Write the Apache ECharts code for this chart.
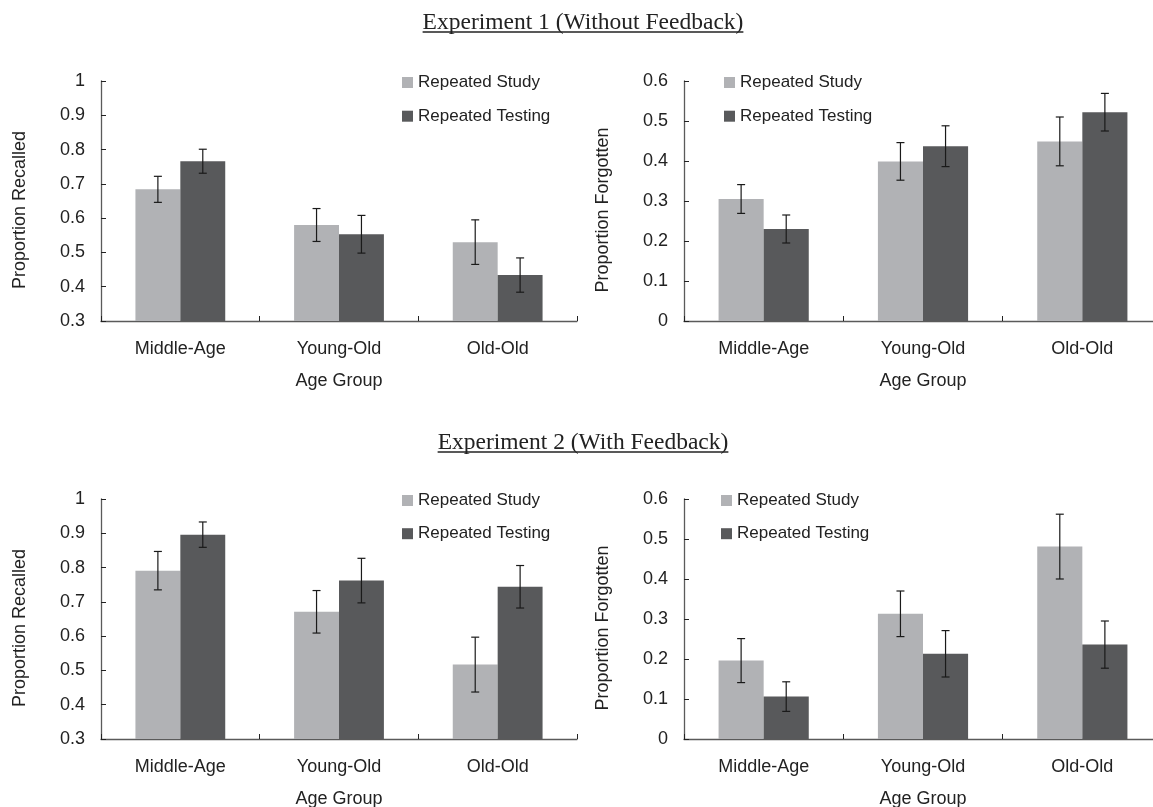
<!DOCTYPE html>
<html>
<head>
<meta charset="utf-8">
<script src="https://cdn.jsdelivr.net/npm/echarts@6/dist/echarts.min.js"></script>
<style>
html,body{margin:0;padding:0;background:#fff;}
#chart{width:1153px;height:807px;}
</style>
</head>
<body>
<div id="chart"></div>
<script>
// ---- data ----
const categories = ['Middle-Age', 'Young-Old', 'Old-Old'];
const seriesNames = ['Repeated Study', 'Repeated Testing'];
const titles = ['Experiment 1 (Without Feedback)', 'Experiment 2 (With Feedback)'];

// Experiment 1
const exp1RecalledStudy = [0.684, 0.580, 0.530];
const exp1RecalledStudyErr = [0.038, 0.048, 0.065];
const exp1RecalledTesting = [0.766, 0.553, 0.434];
const exp1RecalledTestingErr = [0.035, 0.055, 0.050];
const exp1ForgottenStudy = [0.305, 0.399, 0.449];
const exp1ForgottenStudyErr = [0.036, 0.047, 0.061];
const exp1ForgottenTesting = [0.230, 0.437, 0.522];
const exp1ForgottenTestingErr = [0.035, 0.051, 0.047];

// Experiment 2
const exp2RecalledStudy = [0.791, 0.671, 0.517];
const exp2RecalledStudyErr = [0.056, 0.062, 0.080];
const exp2RecalledTesting = [0.896, 0.762, 0.744];
const exp2RecalledTestingErr = [0.037, 0.065, 0.062];
const exp2ForgottenStudy = [0.196, 0.313, 0.481];
const exp2ForgottenStudyErr = [0.055, 0.057, 0.081];
const exp2ForgottenTesting = [0.106, 0.213, 0.236];
const exp2ForgottenTestingErr = [0.037, 0.058, 0.059];

const recalledTicks = {min: 0.3, max: 1, interval: 0.1};
const forgottenTicks = {min: 0, max: 0.6, interval: 0.1};

// ---- styles / layout ----
const FONT = 'Liberation Sans';
const LIGHT = '#b1b2b5';
const DARK = '#58595b';
const AXIS = '#5a5a5a';
const TXT = '#222';
const BAR_FRAC = 0.283;
const AX_FS = 18;

const panels = [
  {grid: {left: 101, top: 81, width: 476, height: 240}, y: recalledTicks, yName: 'Proportion Recalled', nameGap: 72,
   s: exp1RecalledStudy, se: exp1RecalledStudyErr, t: exp1RecalledTesting, te: exp1RecalledTestingErr, leg: {left: 402, top: 74, gap: 16.7}},
  {grid: {left: 684, top: 81, width: 478, height: 240}, y: forgottenTicks, yName: 'Proportion Forgotten', nameGap: 72,
   s: exp1ForgottenStudy, se: exp1ForgottenStudyErr, t: exp1ForgottenTesting, te: exp1ForgottenTestingErr, leg: {left: 724, top: 74, gap: 16.7}},
  {grid: {left: 101, top: 499, width: 476, height: 240}, y: recalledTicks, yName: 'Proportion Recalled', nameGap: 72,
   s: exp2RecalledStudy, se: exp2RecalledStudyErr, t: exp2RecalledTesting, te: exp2RecalledTestingErr, leg: {left: 402, top: 492, gap: 16.2}},
  {grid: {left: 684, top: 499, width: 478, height: 240}, y: forgottenTicks, yName: 'Proportion Forgotten', nameGap: 72,
   s: exp2ForgottenStudy, se: exp2ForgottenStudyErr, t: exp2ForgottenTesting, te: exp2ForgottenTestingErr, leg: {left: 721, top: 492, gap: 16.2}}
];

function errRender(side) {
  return function (params, api) {
    const cat = api.value(0), v = api.value(1), e = api.value(2);
    const catW = api.size([1, 0])[0];
    const c = api.coord([cat, v]);
    const x = c[0] + side * catW * BAR_FRAC / 2;
    const top = api.coord([cat, v + e])[1];
    const bot = api.coord([cat, v - e])[1];
    const cap = 4;
    const st = {stroke: '#1a1a1a', lineWidth: 1.2};
    return {type: 'group', children: [
      {type: 'line', shape: {x1: x, y1: top, x2: x, y2: bot}, style: st},
      {type: 'line', shape: {x1: x - cap, y1: top, x2: x + cap, y2: top}, style: st},
      {type: 'line', shape: {x1: x - cap, y1: bot, x2: x + cap, y2: bot}, style: st}
    ]};
  };
}

const grid = [], xAxis = [], yAxis = [], series = [], legend = [];
panels.forEach((p, i) => {
  grid.push(Object.assign({outerBoundsMode: 'none', containLabel: false}, p.grid));
  xAxis.push({
    type: 'category', gridIndex: i, data: categories,
    name: 'Age Group', nameLocation: 'middle', nameGap: 51,
    nameTextStyle: {fontFamily: FONT, fontSize: AX_FS, color: TXT},
    axisLine: {lineStyle: {color: AXIS, width: 1.3}},
    axisTick: {show: true, inside: true, length: 5, alignWithLabel: false, lineStyle: {color: TXT}},
    axisLabel: {fontFamily: FONT, fontSize: AX_FS, color: TXT, margin: 19},
    splitLine: {show: false}
  });
  yAxis.push({
    type: 'value', gridIndex: i, min: p.y.min, max: p.y.max, interval: p.y.interval,
    name: p.yName, nameLocation: 'middle', nameGap: p.nameGap, nameRotate: 90,
    nameTextStyle: {fontFamily: FONT, fontSize: AX_FS, color: TXT, padding: [0, 18, 0, 0]},
    axisLine: {show: true, lineStyle: {color: AXIS, width: 1.3}},
    axisTick: {show: true, inside: true, length: 5, lineStyle: {color: TXT}},
    axisLabel: {fontFamily: FONT, fontSize: AX_FS, color: TXT, margin: 16},
    splitLine: {show: false}
  });
  series.push({
    name: seriesNames[0], type: 'bar', xAxisIndex: i, yAxisIndex: i, data: p.s,
    itemStyle: {color: LIGHT}, barGap: '0%', barCategoryGap: '43.4%', emphasis: {disabled: true}
  });
  series.push({
    name: seriesNames[1], type: 'bar', xAxisIndex: i, yAxisIndex: i, data: p.t,
    itemStyle: {color: DARK}, barGap: '0%', barCategoryGap: '43.4%', emphasis: {disabled: true}
  });
  series.push({
    type: 'custom', xAxisIndex: i, yAxisIndex: i, z: 5,
    data: p.s.map((v, k) => [k, v, p.se[k]]), renderItem: errRender(-1), encode: {x: 0, y: 1}, silent: true
  });
  series.push({
    type: 'custom', xAxisIndex: i, yAxisIndex: i, z: 5,
    data: p.t.map((v, k) => [k, v, p.te[k]]), renderItem: errRender(1), encode: {x: 0, y: 1}, silent: true
  });
  legend.push({
    data: seriesNames, orient: 'vertical', left: p.leg.left, top: p.leg.top,
    itemWidth: 11, itemHeight: 11, itemGap: p.leg.gap, icon: 'rect', padding: 0,
    selectedMode: false,
    textStyle: {fontFamily: FONT, fontSize: 17, color: TXT, lineHeight: 17}
  });
});

// titles with underline
const TITLE_FONT = 'Liberation Serif';
const TITLE_SIZE = 23.5;
const cv = document.createElement('canvas').getContext('2d');
cv.font = TITLE_SIZE + 'px "' + TITLE_FONT + '"';
const titleY = [11, 431];
const titleCX = 583;
const graphic = [];
titles.forEach((t, i) => {
  const w = cv.measureText(t).width;
  graphic.push({type: 'text', left: titleCX - w / 2, top: titleY[i],
    style: {text: t, font: TITLE_SIZE + 'px "' + TITLE_FONT + '"', fill: TXT}});
  graphic.push({type: 'line', shape: {x1: titleCX - w / 2, y1: titleY[i] + 21, x2: titleCX + w / 2, y2: titleY[i] + 21},
    style: {stroke: TXT, lineWidth: 1.4}});
});

const chart = echarts.init(document.getElementById('chart'), null, {renderer: 'canvas'});
chart.setOption({
  animation: false,
  backgroundColor: '#fff',
  grid, xAxis, yAxis, series, legend, graphic
});
</script>
</body>
</html>
